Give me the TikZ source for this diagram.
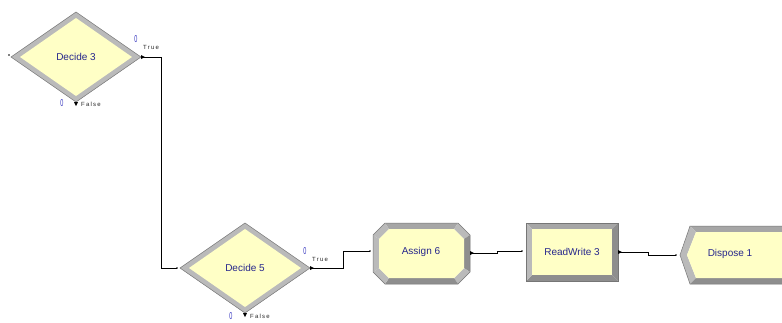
\documentclass[tikz,border=0pt]{standalone}
\usepackage{fontspec}
\setmainfont{Liberation Sans}
\newfontfamily\portfont[LetterSpace=20]{Liberation Sans}
\usetikzlibrary{calc}
\definecolor{modfill}{RGB}{255,255,198}
\definecolor{bevlight}{RGB}{186,186,186}
\definecolor{bevmid}{RGB}{166,166,166}
\definecolor{bevdark}{RGB}{142,142,142}
\definecolor{bevedge}{RGB}{118,118,118}
\definecolor{modtext}{RGB}{38,38,140}
\definecolor{countblue}{RGB}{50,50,190}
\tikzset{
  modlabel/.style={font=\fontsize{10}{12}\selectfont, text=modtext, inner sep=0},
  portlabel/.style={font=\portfont\fontsize{6}{7}\selectfont, text=black!85, inner sep=0, anchor=west},
  counter/.style={font=\fontsize{10}{11}\selectfont, text=countblue, inner sep=0, xscale=0.55},
  conn/.style={draw=black, line width=0.8pt},
  entrydot/.style={fill=black, circle, inner sep=0, minimum size=1.8pt},
  exittip/.style={fill=black},
  rim/.style={draw=bevedge, line width=0.5pt},
  innerface/.style={fill=modfill},
}
% one bevel band between two outer and two inner corners
\newcommand\band[5]{\fill[#5] #1 -- #2 -- #3 -- #4 -- cycle;}
% Decide module: diamond with bevelled rim, centre (#2,#3)
\newcommand\decidebox[3]{%
  \fill[bevlight] (#2-65,#3) -- (#2,#3-45) -- (#2+65,#3) -- (#2,#3+45) -- cycle;
  \path[innerface] (#2-56,#3) -- (#2,#3-39) -- (#2+56,#3) -- (#2,#3+39) -- cycle;
  \draw[rim] (#2-65,#3) -- (#2,#3-45) -- (#2+65,#3) -- (#2,#3+45) -- cycle;
  \coordinate (#1-in) at (#2-68,#3);
  \coordinate (#1-true) at (#2+66,#3);
  \coordinate (#1-false) at (#2,#3+46);
  \fill[exittip] (#2+65,#3-2) -- (#2+69,#3) -- (#2+65,#3+2) -- cycle;
  \fill[exittip] (#2-2,#3+45) -- (#2+2,#3+45) -- (#2,#3+49) -- cycle;
}
\begin{document}
\begin{tikzpicture}[x=1pt,y=-1pt]
\useasboundingbox[fill=white] (0,0) rectangle (782,322);

% ---- Decide 3 ----
\decidebox{d3}{76}{57}
\node[modlabel] (d3) at (76,57) {Decide 3};
\node[entrydot] (d3dot) at (9,55) {};
\node[counter] (d3ct) at (136,39) {0};
\node[counter] (d3cf) at (62,103) {0};
\node[portlabel] (d3t) at (143,47) {True};
\node[portlabel] (d3f) at (81,104) {False};

% ---- Decide 5 ----
\decidebox{d5}{245}{268}
\node[modlabel] (d5) at (245,268) {Decide 5};
\node[counter] (d5ct) at (305,251) {0};
\node[counter] (d5cf) at (231,316) {0};
\node[portlabel] (d5t) at (312,259) {True};
\node[portlabel] (d5f) at (250,316) {False};

% ---- Assign 6: octagon ----
\coordinate (o1) at (385,223); \coordinate (o2) at (458,223);
\coordinate (o3) at (470,235); \coordinate (o4) at (470,272);
\coordinate (o5) at (458,284); \coordinate (o6) at (385,284);
\coordinate (o7) at (373,272); \coordinate (o8) at (373,235);
\coordinate (i1) at (389,229); \coordinate (i2) at (454,229);
\coordinate (i3) at (464,239); \coordinate (i4) at (464,268);
\coordinate (i5) at (454,278); \coordinate (i6) at (389,278);
\coordinate (i7) at (379,268); \coordinate (i8) at (379,239);
\band{(o1)}{(o2)}{(i2)}{(i1)}{bevmid}
\band{(o2)}{(o3)}{(i3)}{(i2)}{bevlight}
\band{(o3)}{(o4)}{(i4)}{(i3)}{bevdark}
\band{(o4)}{(o5)}{(i5)}{(i4)}{bevlight}
\band{(o5)}{(o6)}{(i6)}{(i5)}{bevdark}
\band{(o6)}{(o7)}{(i7)}{(i6)}{bevlight}
\band{(o7)}{(o8)}{(i8)}{(i7)}{bevlight}
\band{(o8)}{(o1)}{(i1)}{(i8)}{bevlight}
\path[innerface] (i1) -- (i2) -- (i3) -- (i4) -- (i5) -- (i6) -- (i7) -- (i8) -- cycle;
\draw[rim] (o1) -- (o2) -- (o3) -- (o4) -- (o5) -- (o6) -- (o7) -- (o8) -- cycle;
\node[modlabel] (as6) at (421,252) {Assign 6};
\coordinate (as6-in) at (370,251);
\coordinate (as6-out) at (471,253);
\fill[exittip] (470,251) -- (474,253) -- (470,255) -- cycle;

% ---- ReadWrite 3: rectangle ----
\band{(526,223)}{(618,223)}{(612,229)}{(532,229)}{bevmid}
\band{(618,223)}{(618,281)}{(612,275)}{(612,229)}{bevdark}
\band{(618,281)}{(526,281)}{(532,275)}{(612,275)}{bevdark}
\band{(526,281)}{(526,223)}{(532,229)}{(532,275)}{bevlight}
\path[innerface] (532,229) rectangle (612,275);
\draw[rim] (526,223) rectangle (618,281);
\node[modlabel] (rw3) at (572,252) {ReadWrite 3};
\coordinate (rw3-in) at (522,251);
\coordinate (rw3-out) at (619,252);
\fill[exittip] (618,250) -- (622,252) -- (618,254) -- cycle;

% ---- Dispose 1: pentagon pointing left ----
\band{(690,226)}{(800,226)}{(800,232)}{(696,232)}{bevmid}
\band{(680,255)}{(690,226)}{(696,232)}{(687,255)}{bevlight}
\band{(690,284)}{(680,255)}{(687,255)}{(696,278)}{bevlight}
\band{(800,284)}{(690,284)}{(696,278)}{(800,278)}{bevdark}
\path[innerface] (696,278) -- (687,255) -- (696,232) -- (800,232) -- (800,278) -- cycle;
\draw[rim] (800,284) -- (690,284) -- (680,255) -- (690,226) -- (800,226);
\node[modlabel] (dp1) at (730,254) {Dispose 1};
\coordinate (dp1-in) at (676,255);

% ---- connectors ----
\draw[conn] (d3-true) -- ++(19,0) |- (d5-in);
\draw[conn] (d5-true) -- ++(32,0) |- (as6-in);
\draw[conn] (as6-out) -- ++(26,0) |- (rw3-in);
\draw[conn] (rw3-out) -- ++(29,0) |- (dp1-in);
\foreach \p in {d5-in, as6-in, rw3-in, dp1-in}
  \node[entrydot] at (\p) {};
\end{tikzpicture}
\end{document}
